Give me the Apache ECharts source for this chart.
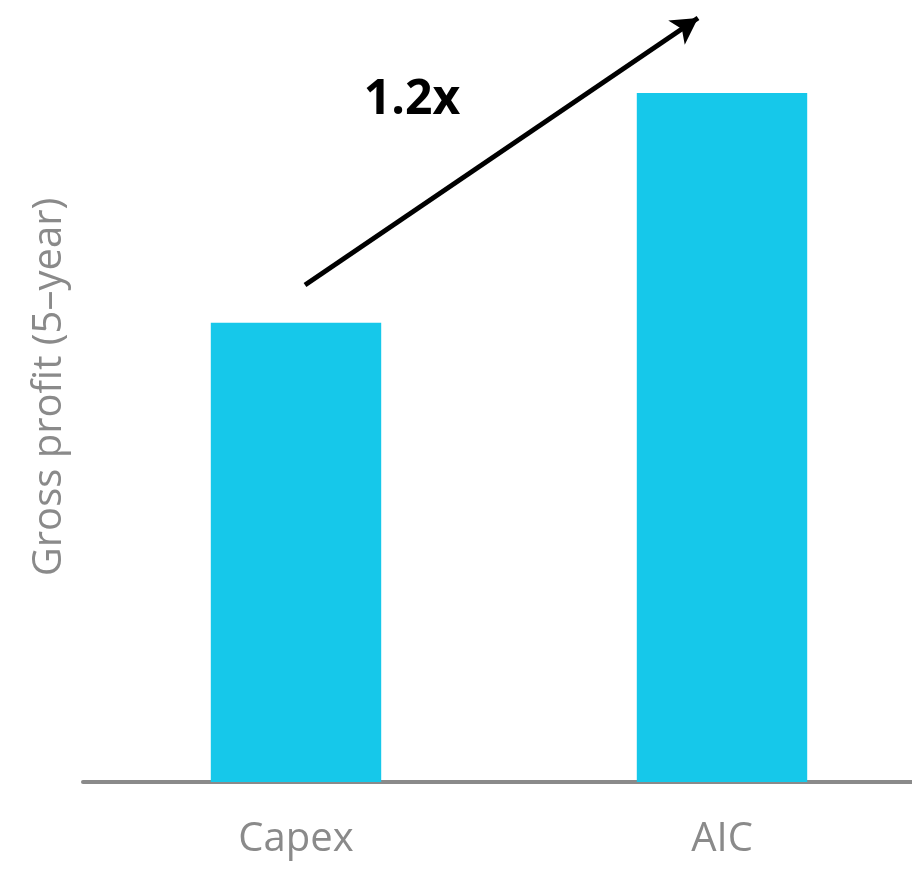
<!DOCTYPE html>
<html>
<head>
<meta charset="utf-8">
<script src="https://cdn.jsdelivr.net/npm/echarts@6/dist/echarts.min.js"></script>
<style>
  html,body{margin:0;padding:0;background:#fff;overflow:hidden;}
  /* plot runs a little past the right edge, like the source slide */
  #chart{width:935px;height:870px;}
</style>
</head>
<body>
<div id="chart"></div>
<script>
// categories and values (axis starts at 0.6, so the 1.2x ratio shows as 2:3 on screen)
const categories = ['Capex', 'AIC'];
const grossProfit = [1.0, 1.2];
const yName = 'Gross profit (5\u2013year)';
const ratioLabel = '1.2x';

const FONT = "'Open Sans', sans-serif";
const GREY = '#8a8a8a';

const ch = echarts.init(document.getElementById('chart'), null, {renderer:'canvas'});
ch.setOption({
  animation:false,
  textStyle:{fontFamily:FONT},
  grid:{left:83, right:0, top:93, bottom:88, containLabel:false},
  xAxis:{
    type:'category', data:categories,
    axisLine:{lineStyle:{color:GREY, width:4}},
    axisTick:{show:false},
    axisLabel:{color:GREY, fontSize:40, margin:38, fontFamily:FONT}
  },
  yAxis:{
    type:'value', min:0.6, max:1.2,
    axisLine:{show:false}, axisTick:{show:false},
    axisLabel:{show:false}, splitLine:{show:false}
  },
  series:[{
    type:'bar', data:grossProfit, barWidth:'40%',
    itemStyle:{color:'#16c8ea'},
    markLine:{
      silent:true, symbol:['none','arrow'], symbolSize:[22,26],
      lineStyle:{color:'#000', width:5, type:'solid'},
      label:{show:false},
      data:[[{x:305, y:285}, {x:698, y:18}]]
    }
  }],
  graphic:[
    {type:'text', x:50, y:387, rotation:Math.PI/2,
     style:{text:yName, fill:GREY, font:"40px 'Open Sans', sans-serif",
            align:'center', verticalAlign:'middle'}},
    {type:'text', x:412, y:100,
     style:{text:ratioLabel, fill:'#000', font:"bold 48px 'Open Sans', sans-serif",
            align:'center', verticalAlign:'middle'}}
  ]
});
</script>
</body>
</html>
